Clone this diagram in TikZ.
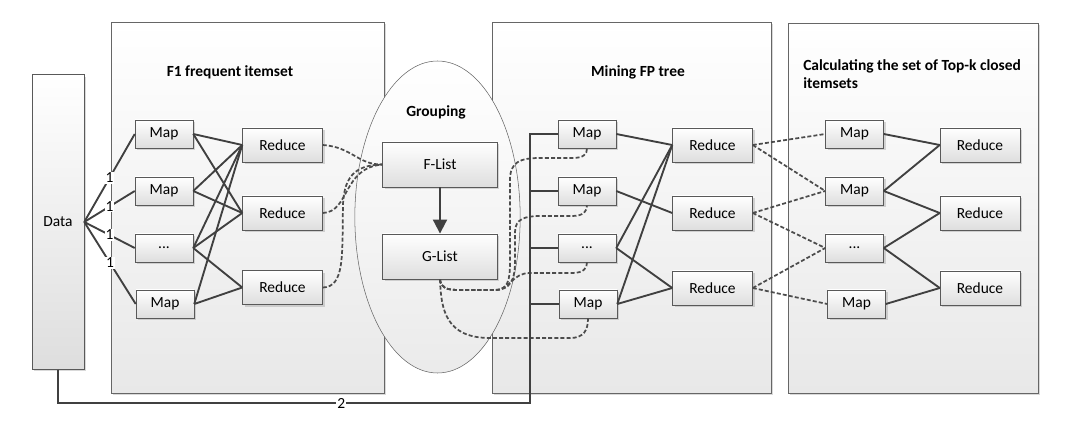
\documentclass[tikz,border=0pt]{standalone}
\usepackage{fontspec}
\setmainfont{Carlito}
\usetikzlibrary{shapes.geometric,shadows,arrows.meta}

\begin{document}
\begin{tikzpicture}[x=0.75pt, y=-0.75pt,
	font=\fontsize{11.6}{14}\selectfont,
	shade/.style={drop shadow={shadow xshift=1.6pt, shadow yshift=-1.6pt, opacity=0.3}},
	panel/.style={draw=black!60, top color=white, bottom color=black!9, shade},
	box/.style={draw=black!65, top color=white, bottom color=black!13, shade, inner sep=0pt},
	mapbox/.style={box, minimum width=43.5pt, minimum height=21pt},
	redbox/.style={box, minimum width=60pt, minimum height=25.5pt},
	listbox/.style={box, minimum width=86pt, minimum height=34pt},
	group/.style={ellipse, draw=black!60, top color=white, bottom color=black!8, minimum width=124pt, minimum height=234pt},
	title/.style={font=\fontsize{11.6}{14}\selectfont\bfseries},
	link/.style={draw=black!75, line width=1.4pt},
	flow/.style={draw=black!70, line width=1.3pt, dash pattern=on 3pt off 1.6pt},
	bus/.style={draw=black!75, line width=2.1pt},
	num/.style={fill=white, inner sep=0.6pt}]

	\useasboundingbox (0,0) rectangle (1069,423);

	% panels
	\path[panel] (111,22) rectangle (384,393);
	\path[panel] (492,22) rectangle (771,393);
	\path[panel] (788,23) rectangle (1038,393);
	\node[group] (grp) at (437.5,217) {};

	\node[title] at (230,72) {F1 frequent itemset};
	\node[title] at (436,112) {Grouping};
	\node[title] at (638,72) {Mining FP tree};
	\node[title, anchor=north west, align=left, inner sep=0pt] at (803,59) {Calculating the set of Top-k closed\\itemsets};

	% data
	\node[box, minimum width=39pt, minimum height=221pt] (data) at (58,222) {Data};

	% first job
	\node[mapbox] (m11) at (164,134) {Map};
	\node[mapbox] (m12) at (164,191) {Map};
	\node[mapbox] (m13) at (164,248) {...};
	\node[mapbox] (m14) at (165,304) {Map};

	\node[redbox] (r11) at (282.5,145) {Reduce};
	\node[redbox] (r12) at (282.5,213) {Reduce};
	\node[redbox] (r13) at (282.5,287.5) {Reduce};

	% grouping
	\node[listbox] (fl) at (440,164.5) {F-List};
	\node[listbox] (gl) at (440,256.5) {G-List};

	% second job
	\node[mapbox] (m21) at (587,134) {Map};
	\node[mapbox] (m22) at (587,191) {Map};
	\node[mapbox] (m23) at (587,248) {...};
	\node[mapbox] (m24) at (588,304) {Map};

	\node[redbox] (r21) at (712.5,145) {Reduce};
	\node[redbox] (r22) at (712.5,213) {Reduce};
	\node[redbox] (r23) at (712.5,288) {Reduce};

	% third job
	\node[mapbox] (m31) at (854.5,134) {Map};
	\node[mapbox] (m32) at (854.5,191) {Map};
	\node[mapbox] (m33) at (854.5,248) {...};
	\node[mapbox] (m34) at (856.5,304) {Map};

	\node[redbox] (r31) at (980,145) {Reduce};
	\node[redbox] (r32) at (980,213) {Reduce};
	\node[redbox] (r33) at (980,288) {Reduce};

	% data to first maps
	\draw[link] (data.east) -- node[num]{1} (m11.west);
	\draw[link] (data.east) -- node[num]{1} (m12.west);
	\draw[link] (data.east) -- node[num]{1} (m13.west);
	\draw[link] (data.east) -- node[num]{1} (m14.west);

	\draw[link] (m11.east) -- (r11.west);
	\draw[link] (m11.east) -- (r12.west);
	\draw[link] (m12.east) -- (r11.west);
	\draw[link] (m12.east) -- (r12.west);
	\draw[link] (m13.east) -- (r11.west);
	\draw[link] (m13.east) -- (r12.west);
	\draw[link] (m13.east) -- (r13.west);
	\draw[link] (m14.east) -- (r11.west);
	\draw[link] (m14.east) -- (r13.west);

	% reduce output to F-List
	\draw[flow] (r11.east) .. controls (352,147) and (358,165) .. (fl.west);
	\draw[flow] (r12.east) .. controls (350,212) and (342,168) .. (fl.west);
	\draw[flow] (r13.east) .. controls (345,287) and (342,255) .. (343,205) .. controls (344,172) and (360,165) .. (fl.west);

	\draw[-{Triangle[width=10.5pt,length=10.5pt]}, draw=black!75, fill=black!75, line width=1.5pt] (fl) -- (gl);

	% G-List to second maps
	\draw[flow] (gl.south) .. controls (441,288) and (446,290) .. (460,290) -- (495,290) .. controls (508,290) and (510,280) .. (510,262) -- (510,180) .. controls (510,162) and (520,158) .. (540,158) -- (572,158) .. controls (584,158) and (587,154) .. (m21.south);
	\draw[flow] (gl.south) .. controls (441,288) and (446,290) .. (460,290) -- (495,290) .. controls (510,290) and (515,280) .. (515,262) -- (515,232) .. controls (515,219) and (525,216) .. (540,216) -- (572,216) .. controls (584,216) and (587,211) .. (m22.south);
	\draw[flow] (gl.south) .. controls (441,288) and (446,290) .. (460,290) -- (495,290) .. controls (510,290) and (512,273) .. (530,273) -- (572,273) .. controls (584,273) and (587,268) .. (m23.south);
	\draw[flow] (gl.south) .. controls (441,310) and (446,338) .. (490,338) -- (570,338) .. controls (584,338) and (588,330) .. (m24.south);

	% bus of the second job
	\coordinate (bus) at (530,403);
	\draw[bus] (data.south) |- node[num, pos=0.8]{2} (bus) |- (m21.west);
	\draw[bus] (m22.west -| bus) -- (m22.west);
	\draw[bus] (m23.west -| bus) -- (m23.west);
	\draw[bus] (m24.west -| bus) -- (m24.west);

	\draw[link] (m21.east) -- (r21.west);
	\draw[link] (m22.east) -- (r22.west);
	\draw[link] (m23.east) -- (r21.west);
	\draw[link] (m23.east) -- (r23.west);
	\draw[link] (m24.east) -- (r21.west);
	\draw[link] (m24.east) -- (r23.west);

	% second reduce to third maps
	\draw[flow] (r21.east) -- (m31.west);
	\draw[flow] (r21.east) -- (m32.west);
	\draw[flow] (r22.east) -- (m32.west);
	\draw[flow] (r22.east) -- (m33.west);
	\draw[flow] (r23.east) -- (m33.west);
	\draw[flow] (r23.east) -- (m34.west);

	\draw[link] (m31.east) -- (r31.west);
	\draw[link] (m32.east) -- (r31.west);
	\draw[link] (m32.east) -- (r32.west);
	\draw[link] (m33.east) -- (r32.west);
	\draw[link] (m33.east) -- (r33.west);
	\draw[link] (m34.east) -- (r33.west);
\end{tikzpicture}
\end{document}
